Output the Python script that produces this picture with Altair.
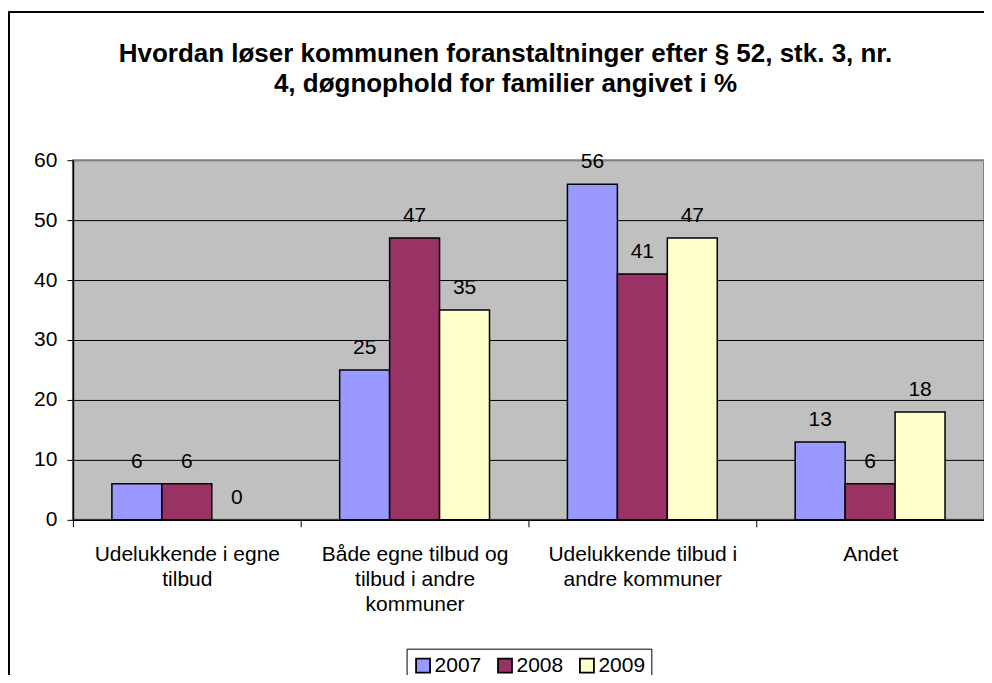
import altair as alt
import pandas as pd

categories = [
    "Udelukkende i egne tilbud",
    "Både egne tilbud og tilbud i andre kommuner",
    "Udelukkende tilbud i andre kommuner",
    "Andet",
]
label_lines = [
    ["Udelukkende i egne", "tilbud"],
    ["Både egne tilbud og", "tilbud i andre", "kommuner"],
    ["Udelukkende tilbud i", "andre kommuner"],
    ["Andet"],
]
years = ["2007", "2008", "2009"]
v2007 = [6, 25, 56, 13]
v2008 = [6, 47, 41, 6]
v2009 = [0, 35, 47, 18]
colors = ["#9999FF", "#993366", "#FFFFCC"]

rows = []
for yr, vals in zip(years, [v2007, v2008, v2009]):
    for c, v in zip(categories, vals):
        rows.append({"Kategori": c, "År": yr, "Procent": v})
df = pd.DataFrame(rows)

# label expression for multi-line category labels
parts = []
for c, lines in zip(categories, label_lines):
    arr = "[" + ",".join("'" + l + "'" for l in lines) + "]"
    parts.append(f"datum.label == '{c}' ? {arr} : ")
label_expr = "".join(parts) + "datum.label"

FONT = "Liberation Sans"

x_enc = alt.X(
    "Kategori:N",
    sort=categories,
    scale=alt.Scale(paddingInner=0, paddingOuter=0),
    axis=alt.Axis(
        title=None,
        labelAngle=0,
        labelExpr=label_expr,
        labelFont=FONT,
        labelFontSize=21,
        labelColor="black",
        labelLineHeight=25,
        labelPadding=17,
        labelBaseline="top",
        labelLimit=400,
        tickBand="extent",
        tickColor="black",
        tickSize=7,
        domainColor="black",
        domainWidth=1.5,
        grid=False,
    ),
)
xoff_enc = alt.XOffset(
    "År:N", sort=years, scale=alt.Scale(paddingInner=0, paddingOuter=0.78)
)
y_enc = alt.Y(
    "Procent:Q",
    scale=alt.Scale(domain=[0, 60], nice=False),
    axis=alt.Axis(
        title=None,
        values=[0, 10, 20, 30, 40, 50, 60],
        labelFont=FONT,
        labelFontSize=21,
        labelColor="black",
        labelPadding=10,
        tickColor="black",
        tickSize=6,
        domainColor="black",
        domainWidth=1.5,
        grid=True,
        gridColor={"condition": {"test": "datum.value == 60", "value": "#808080"}, "value": "black"},
        gridWidth=1,
    ),
)

frame = alt.Chart(df).mark_rect(fill=None, stroke="black", strokeWidth=1.2).encode(
    x=alt.value(-64), x2=alt.value(930), y=alt.value(-148), y2=alt.value(560)
)

bars = alt.Chart(df).mark_bar(stroke="black", strokeWidth=1.5).encode(
    x=x_enc,
    xOffset=xoff_enc,
    y=y_enc,
    strokeOpacity=alt.condition("datum.Procent == 0", alt.value(0), alt.value(1)),
    fill=alt.Fill(
        "År:N",
        sort=years,
        scale=alt.Scale(domain=years, range=colors),
        legend=alt.Legend(
            title=None,
            orient="none",
            direction="horizontal",
            legendX=334,
            legendY=489,
            symbolType="square",
            symbolSize=196,
            symbolStrokeColor="black",
            symbolStrokeWidth=1.8,
            labelFont=FONT,
            labelFontSize=21,
            labelColor="black",
            labelOffset=1,
            columnPadding=12,
            padding=6,
            strokeColor="black",
            fillColor="white",
        ),
    ),
)

labels = alt.Chart(df).mark_text(
    baseline="alphabetic", dy=-16, font=FONT, fontSize=21, color="black"
).encode(
    x=alt.X("Kategori:N", sort=categories),
    xOffset=alt.XOffset("År:N", sort=years),
    y=alt.Y("Procent:Q"),
    text=alt.Text("Procent:Q"),
)

chart = (
    alt.layer(frame, bars, labels)
    .properties(
        width=912,
        height=360,
        padding={"left": 65, "top": 152, "right": 0, "bottom": 155},
        autosize=alt.AutoSizeParams(type="none"),
        title=alt.TitleParams(
            text=[
                "Hvordan løser kommunen foranstaltninger efter § 52, stk. 3, nr.",
                "4, døgnophold for familier angivet i %",
            ],
            font=FONT,
            fontSize=26,
            fontWeight="bold",
            color="black",
            anchor="middle",
            frame="bounds",
            lineHeight=30,
            offset=-85,
        ),
        background="white",
    )
    .configure_view(fill="#C0C0C0", stroke="#808080", strokeWidth=2)
)

chart.save("out.html", embed_options={"renderer": "svg", "actions": False})
